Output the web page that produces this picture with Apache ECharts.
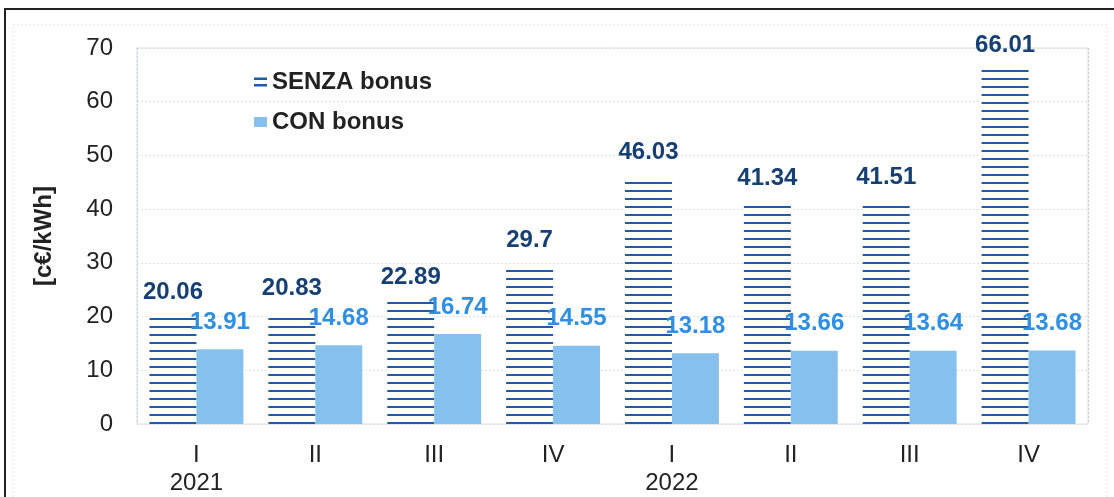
<!DOCTYPE html>
<html><head><meta charset="utf-8">
<script src="https://cdn.jsdelivr.net/npm/echarts@6/dist/echarts.min.js"></script>
<style>html,body{margin:0;padding:0;background:#fff}#c{width:1114px;height:497px}</style>
</head><body><div id="c"></div>
<script>
const quarters = ['I','II','III','IV','I','II','III','IV'];
const years = ['2021','','','','2022','','',''];
const senzaBonus = [20.06, 20.83, 22.89, 29.7, 46.03, 41.34, 41.51, 66.01];
const conBonus = [13.91, 14.68, 16.74, 14.55, 13.18, 13.66, 13.64, 13.68];
const yTicks = {min: 0, max: 70, interval: 10};

const FONT = '"Liberation Sans", Arial, sans-serif';
const pc = document.createElement('canvas');
pc.width = 4; pc.height = 8;
const pctx = pc.getContext('2d');
pctx.fillStyle = '#ffffff'; pctx.fillRect(0,0,4,8);
pctx.fillStyle = '#1d5ca6'; pctx.fillRect(0,6,4,2);

const chart = echarts.init(document.getElementById('c'), null, {renderer:'canvas'});
chart.setOption({
  backgroundColor: '#ffffff',
  animation: false,
  textStyle: {fontFamily: FONT},
  graphic: [
    {type:'rect', shape:{x:5,y:9,width:1200,height:600}, style:{fill:'none', stroke:'#222', lineWidth:2}, silent:true, z:-1},
    {type:'rect', shape:{x:13,y:25,width:1094,height:600}, style:{fill:'none', stroke:'#dfe4ea', lineWidth:1, lineDash:[2,2]}, silent:true, z:-1}
  ],
  grid: {left:137, right:26, top:48, bottom:73, show:true, borderColor:'#d9dee4', borderWidth:1, backgroundColor:'transparent'},
  legend: {
    orient:'vertical', left:249, top:65, itemGap:16, itemWidth:13, itemHeight:10,
    textStyle:{fontFamily:FONT, fontSize:24, fontWeight:'bold', color:'#222'},
    data:[
      {name:'SENZA bonus', icon:'path://M0,0H10V2H0Z M0,5H10V7H0Z', itemStyle:{color:'#1d5ca6'}},
      {name:'CON bonus', icon:'rect', itemStyle:{color:'#86c0ee'}}
    ]
  },
  xAxis: [
    {type:'category', data:quarters, axisLine:{show:false}, axisTick:{show:false},
     axisLabel:{interval:0, margin:19, fontSize:24, color:'#222', fontFamily:FONT}},
    {type:'category', data:years, position:'bottom', axisLine:{show:false}, axisTick:{show:false},
     axisLabel:{interval:0, margin:47, fontSize:24, color:'#222', fontFamily:FONT},
     splitLine:{show:true, interval:function(i){return i===4;}, lineStyle:{color:'#c9ced6', type:[2,2], width:1}}}
  ],
  yAxis: {
    type:'value', min:yTicks.min, max:yTicks.max, interval:yTicks.interval,
    name:'[c€/kWh]', nameLocation:'middle', nameRotate:90, nameGap:81,
    nameTextStyle:{fontSize:24, fontWeight:'bold', color:'#222', fontFamily:FONT},
    axisLine:{show:false}, axisTick:{show:false},
    axisLabel:{margin:24, fontSize:24, color:'#222', fontFamily:FONT},
    splitLine:{lineStyle:{color:'#dde2e8', type:[2,2], width:1}}
  },
  series: [
    {name:'SENZA bonus', type:'bar', data:senzaBonus, barWidth:'39.5%', barGap:'0%',
     itemStyle:{color:{image:pc, repeat:'repeat'}},
     label:{show:true, position:'top', distance:12, fontSize:24, fontWeight:'bold', color:'#163f73', fontFamily:FONT}},
    {name:'CON bonus', type:'bar', data:conBonus, barWidth:'39.5%', barGap:'0%',
     itemStyle:{color:'#86c0ee'},
     label:{show:true, position:'top', distance:15, fontSize:24, fontWeight:'bold', color:'#2f8fe3', fontFamily:FONT}}
  ]
});
</script></body></html>
